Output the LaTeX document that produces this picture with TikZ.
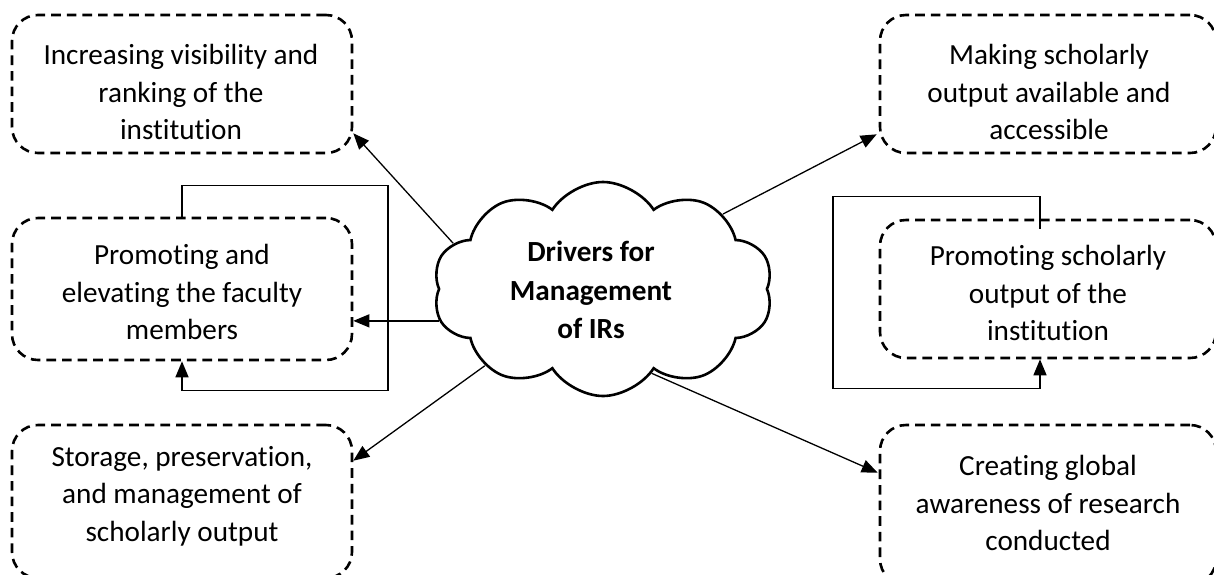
\documentclass[tikz,border=0pt]{standalone}
\usepackage{fontspec}
\setmainfont{Carlito}[RawFeature={-liga;-clig;-dlig}]
\usetikzlibrary{shapes.symbols,arrows.meta,calc}
\begin{document}
\begin{tikzpicture}[x=0.5pt,y=-0.5pt,
  box/.style={draw, rectangle, line width=1.3pt, dash pattern=on 4.8pt off 3pt, rounded corners=13pt, inner sep=0pt},
  txt/.style={align=center, font=\fontsize{14.6}{18.7}\selectfont, inner sep=0pt},
  ctxt/.style={align=center, font=\fontsize{14.6}{19.3}\selectfont\bfseries, inner sep=0pt},
  arr/.style={line width=0.65pt, -{Triangle[length=8pt,width=6.5pt]}},
  loopln/.style={line width=0.75pt, -{Triangle[length=8pt,width=6.5pt]}}]
\useasboundingbox (0,0) rectangle (1214,574);
\clip (0,0) rectangle (1214,574);
% boxes
\node[box, minimum width=170pt, minimum height=69pt] (tl) at (182,84) {};
\node[box, minimum width=170pt, minimum height=71pt] (ml) at (182,289) {};
\node[box, minimum width=170pt, minimum height=76.5pt] (bl) at (182,501.5) {};
\node[box, minimum width=168pt, minimum height=69pt] (tr) at (1048,84) {};
\node[box, minimum width=168pt, minimum height=69pt] (mr) at (1048,289) {};
\node[box, minimum width=168pt, minimum height=80pt] (br) at (1048,505) {};
% texts
\node[txt] (tlt) at (181,92) {Increasing visibility and\\ranking of the\\institution};
\node[txt] (mlt) at (182,292) {Promoting and\\elevating the faculty\\members};
\node[txt] (blt) at (182,496) {Storage, preservation,\\and management of\\scholarly output};
\node[txt] (trt) at (1049,92) {Making scholarly\\output available and\\accessible};
\node[txt] (mrt) at (1048,293) {Promoting scholarly\\output of the\\institution};
\node[txt] (brt) at (1048,503) {Creating global\\awareness of research\\conducted};
% cloud
\node[cloud, draw, line width=1.3pt, cloud puffs=10, cloud puff arc=115, aspect=1.6,
      minimum width=170pt, minimum height=107pt, inner sep=0pt] (drv) at (603,289) {};
\node[ctxt] (drvt) at (591,290) {Drivers for\\Management\\of IRs};
% connectors
\draw[arr] (drv.163) -- ($(tl.south east)+(0,-21)$);
\draw[arr] (drv.191) -- (drv.191 -| ml.east);
\draw[arr] (drv.213) -- ($(bl.north east)+(0,37)$);
\draw[arr] (drv.32) -- ($(tr.south west)+(-2,-20)$);
\draw[arr] (drv.300) -- ($(br.north west)+(-1,49)$);
% loops
\draw[loopln] (ml.north) -- ++(0,-31) -| ++(206,205) -| (ml.south);
\draw[loopln] ($(mr.north)+(-8,10)$) -- ++(0,-32) -| ++(-207,192) -| ($(mr.south)+(-8,0)$);
\end{tikzpicture}
\end{document}
